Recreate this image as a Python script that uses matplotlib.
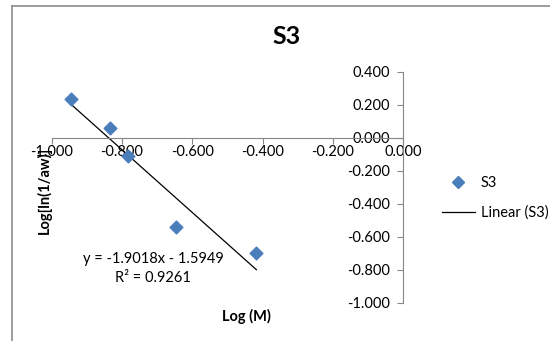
import numpy as np
import matplotlib.pyplot as plt
import matplotlib.transforms as mtransforms
from matplotlib.lines import Line2D

log_m = [-0.945, -0.833, -0.784, -0.647, -0.418]
log_ln_aw = [0.235, 0.059, -0.109, -0.543, -0.697]
slope = -1.9018
intercept = -1.5949
r2 = 0.9261
x_ticks = [-1.0, -0.8, -0.6, -0.4, -0.2, 0.0]
y_ticks = [0.4, 0.2, 0.0, -0.2, -0.4, -0.6, -0.8, -1.0]

plt.rcParams['font.family'] = ['Lato', 'DejaVu Sans']
W, H = 550, 341
fig = plt.figure(figsize=(5.5, 3.41), dpi=100)

# plot area in pixel coords: x -1..0 -> 51.7..403.4, y -1..0.4 -> 302.7..71.7
x0, x1, ytop, ybot = 51.7, 403.4, 71.7, 302.7
ax = fig.add_axes([x0 / W, 1 - ybot / H, (x1 - x0) / W, (ybot - ytop) / H])
ax.set_xlim(-1.0, 0.0)
ax.set_ylim(-1.0, 0.4)

grey = '#868686'
ax.spines['top'].set_visible(False)
ax.spines['left'].set_visible(False)
ax.spines['bottom'].set_position(('data', 0))
ax.spines['right'].set_position(('data', 0))
ax.spines['bottom'].set_color(grey)
ax.spines['right'].set_color(grey)
ax.yaxis.set_label_position('left')

ax.set_xticks(x_ticks)
ax.set_xticklabels(['%.3f' % v for v in x_ticks])
ax.set_yticks(y_ticks)
ax.set_yticklabels(['%.3f' % v for v in y_ticks])
ax.tick_params(axis='x', direction='out', length=4, color=grey, labelsize=10.5, pad=1)
ax.tick_params(axis='y', direction='out', length=4, color=grey, labelsize=10.5,
               labelleft=False, labelright=True, left=False, right=True, pad=0)
# y ticks point left of the y axis, labels sit left of the axis line
shift = mtransforms.ScaledTranslation(-14 / 72, 0, fig.dpi_scale_trans)
for t in ax.yaxis.get_major_ticks():
    t.tick2line.set_marker(0)
    t.label2.set_horizontalalignment('right')
    t.label2.set_transform(t.label2.get_transform() + shift)

ax.scatter(log_m, log_ln_aw, marker='D', s=42, color='#4a7ebb', zorder=3)
xs = np.array([min(log_m), max(log_m)])
ax.plot(xs, slope * xs + intercept, color='black', lw=0.9, zorder=2)

ax.text(-0.712, -0.737, 'y = %.4fx - %.4f' % (slope, -intercept), ha='center', va='center', fontsize=10.5)
ax.text(-0.712, -0.85, 'R² = %.4f' % r2, ha='center', va='center', fontsize=10.5)

fig.text(287 / W, 1 - 36 / H, 'S3', ha='center', va='center', fontsize=18, fontweight='bold')
fig.text(246 / W, 1 - 316 / H, 'Log (M)', ha='center', va='center', fontsize=10.5, fontweight='bold')
fig.text(44 / W, 1 - 190 / H, 'Log[ln(1/aw)]', ha='center', va='center', fontsize=10.5,
         fontweight='bold', rotation=90)

handles = [Line2D([], [], marker='D', ls='none', color='#4a7ebb', markersize=6.5),
           Line2D([], [], color='black', lw=0.9)]
fig.legend(handles, ['S3', 'Linear (S3)'], loc='center', bbox_to_anchor=(495 / W, 1 - 198 / H),
           frameon=False, fontsize=10.5, labelspacing=1.1, handlelength=2.3, handletextpad=0.4)

# outer chart border (left and top visible)
fig.add_artist(Line2D([11.5 / W, 11.5 / W], [0, 1 - 5.5 / H], color='#8c8c8c', lw=1.2))
fig.add_artist(Line2D([11.5 / W, 1], [1 - 5.5 / H, 1 - 5.5 / H], color='#8c8c8c', lw=1.2))

fig.savefig('out.png', dpi=100)
